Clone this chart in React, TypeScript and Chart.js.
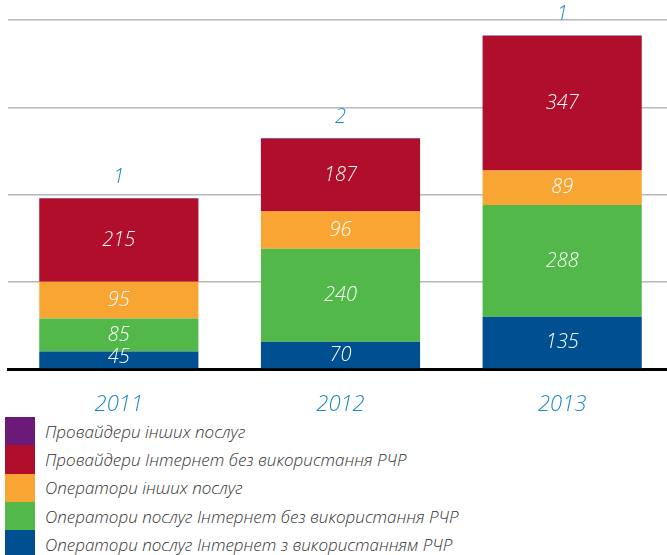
import React, { useEffect, useRef } from "react";
import { Chart, registerables } from "chart.js";

Chart.register(...registerables);

const years = ["2011", "2012", "2013"];
const withRchr = [45, 70, 135];
const withoutRchr = [85, 240, 288];
const operatorsOther = [95, 96, 89];
const providersInternet = [215, 187, 347];
const providersOther = [1, 2, 1];

const seriesNames = [
  "Оператори послуг Інтернет з використанням РЧР",
  "Оператори послуг Інтернет без використання РЧР",
  "Оператори інших послуг",
  "Провайдери Інтернет без використання РЧР",
  "Провайдери інших послуг",
];
const seriesColors = ["#004f91", "#52b84a", "#f9a533", "#b10e2b", "#6b1a78"];

const FONT = "'Open Sans', 'Noto Sans', sans-serif";

const labelPlugin = {
  id: "segLabels",
  afterDatasetsDraw(chart: any) {
    const ctx = chart.ctx;
    const n = chart.data.datasets.length;
    ctx.save();
    ctx.textAlign = "center";
    ctx.textBaseline = "middle";
    chart.data.datasets.forEach((ds: any, di: number) => {
      const meta = chart.getDatasetMeta(di);
      meta.data.forEach((bar: any, i: number) => {
        const v = ds.data[i];
        const p = bar.getProps(["x", "y", "base"], true);
        ctx.font = `italic 300 20px ${FONT}`;
        if (di === n - 1) {
          ctx.fillStyle = "#1a8ac6";
          ctx.fillText(String(v), p.x, p.y - 21);
        } else {
          ctx.fillStyle = "#ffffff";
          ctx.fillText(String(v), p.x, (p.y + p.base) / 2 - (di === 0 && i === 0 ? 3 : 0));
        }
      });
    });
    ctx.restore();
  },
};

export default function App() {
  const ref = useRef<HTMLCanvasElement>(null);

  useEffect(() => {
    document.body.style.margin = "0";
    const values = [withRchr, withoutRchr, operatorsOther, providersInternet, providersOther];
    const chart = new Chart(ref.current!, {
      type: "bar",
      data: {
        labels: years,
        datasets: values.map((d, i) => ({
          label: seriesNames[i],
          data: d,
          backgroundColor: seriesColors[i],
          borderWidth: 0,
          barPercentage: 0.718,
          categoryPercentage: 1,
        })),
      },
      options: {
        animation: false,
        responsive: false,
        maintainAspectRatio: false,
        layout: { padding: { top: 20, left: 8, right: 0, bottom: 0 } },
        plugins: { legend: { display: false }, tooltip: { enabled: false } },
        scales: {
          x: {
            stacked: true,
            grid: { display: false, drawTicks: false },
            border: { display: true, color: "#000000", width: 3 },
            ticks: {
              padding: 23,
              color: "#1a8ac6",
              font: { family: FONT, size: 22, style: "italic", weight: "300" as any },
            },
            afterFit: (s: any) => {
              s.height = 46;
            },
          },
          y: {
            stacked: true,
            min: 0,
            max: 900,
            ticks: { display: false, stepSize: 225 },
            grid: { color: "#b8b8b8", lineWidth: 1.5, drawTicks: false },
            border: { display: false },
            afterFit: (s: any) => {
              s.width = 0;
            },
          },
        },
      },
      plugins: [labelPlugin],
    });
    return () => chart.destroy();
  }, []);

  const legendOrder = [4, 3, 2, 1, 0];

  return (
    <div style={{ width: 667, height: 555, overflow: "hidden", position: "relative", background: "#fff" }}>
      <canvas ref={ref} width={673} height={415} style={{ display: "block", width: 673, height: 415 }} />
      <div style={{ position: "absolute", left: 5, top: 417 }}>
        {legendOrder.map((si) => (
          <div key={si} style={{ display: "flex", alignItems: "center", height: 28.3 }}>
            <div style={{ width: 30, height: 28.3, background: seriesColors[si] }} />
            <span
              style={{
                marginLeft: 10,
                fontFamily: FONT,
                fontStyle: "italic",
                fontWeight: 300,
                fontSize: 17,
                color: "#333333",
                whiteSpace: "nowrap",
              }}
            >
              {seriesNames[si]}
            </span>
          </div>
        ))}
      </div>
    </div>
  );
}
